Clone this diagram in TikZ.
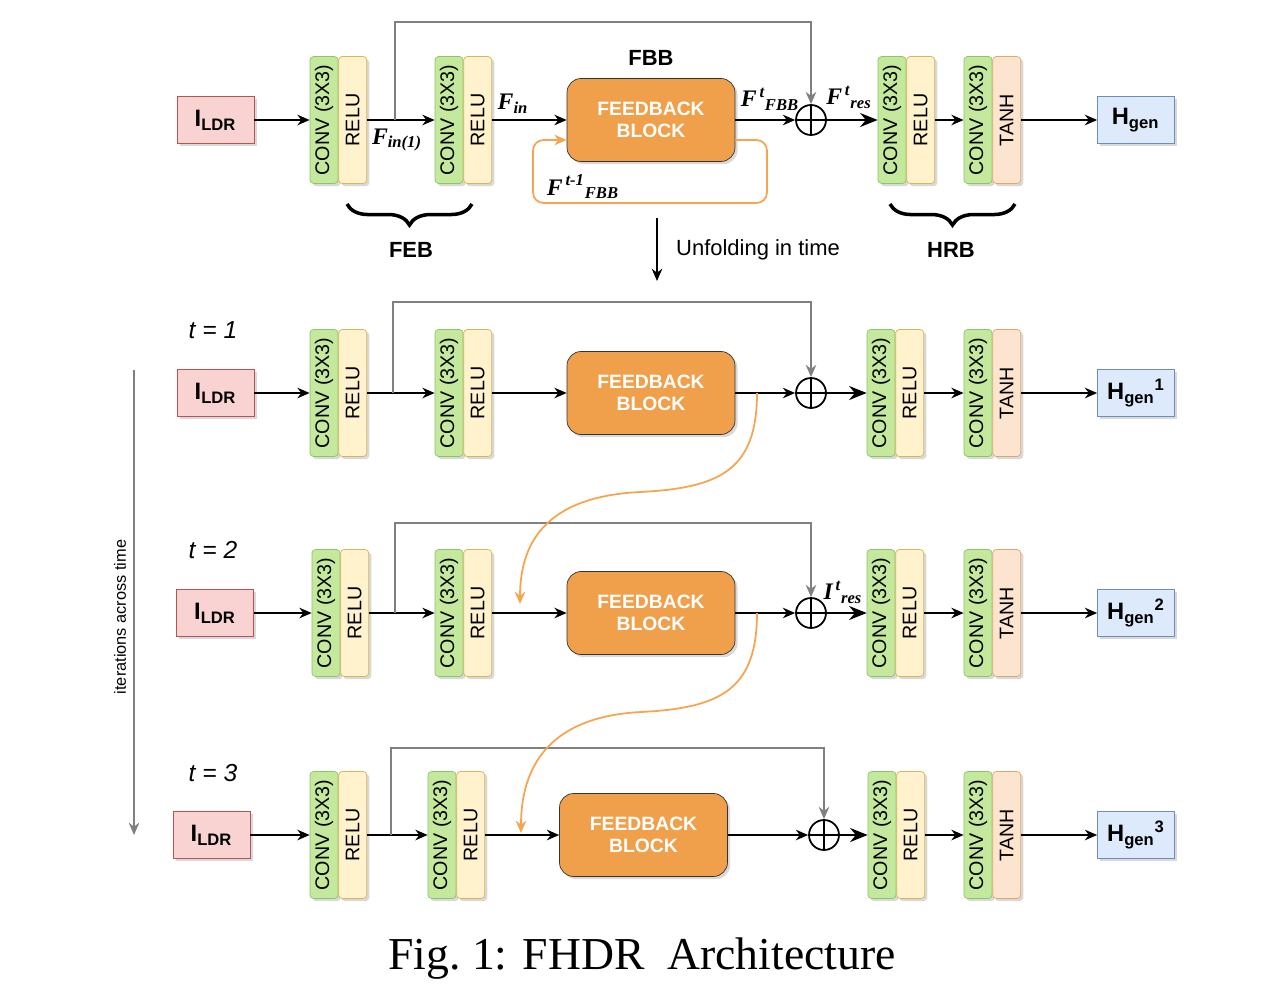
\documentclass[tikz,border=0pt]{standalone}
\usepackage{fontspec}
\setmainfont{Liberation Serif}
\setsansfont{Liberation Sans}
\usepackage{graphicx}
\usetikzlibrary{arrows.meta,positioning,shadows,decorations.pathreplacing,calc}

\definecolor{ldrfill}{HTML}{F8D3D2}
\definecolor{ldrline}{HTML}{B85450}
\definecolor{hgenfill}{HTML}{DDEAFB}
\definecolor{hgenline}{HTML}{6C8EBF}
\definecolor{convfill}{HTML}{C4E89C}
\definecolor{convline}{HTML}{8CC46C}
\definecolor{relufill}{HTML}{FFF2CC}
\definecolor{reluline}{HTML}{D6B656}
\definecolor{tanhfill}{HTML}{FCE4CE}
\definecolor{tanhline}{HTML}{DDA96A}
\definecolor{fbfill}{HTML}{F0A04B}
\definecolor{fbline}{HTML}{333333}
\definecolor{looporange}{HTML}{F5A54F}
\definecolor{skipgray}{HTML}{808080}

\begin{document}
\begin{tikzpicture}[x=0.02cm, y=-0.02cm,
    shadowed/.style={drop shadow={shadow xshift=1.5pt, shadow yshift=-1.5pt, opacity=0.3}},
    box/.style={rectangle, minimum width=1.54cm, minimum height=0.94cm, inner sep=0pt,
        font=\sffamily\bfseries\fontsize{13.5}{15}\selectfont, shadowed},
    ldr/.style={box, draw=ldrline, fill=ldrfill},
    hgen/.style={box, draw=hgenline, fill=hgenfill},
    layerbox/.style={rectangle, rounded corners=2pt, minimum width=0.56cm, minimum height=2.54cm,
        inner sep=0pt, font=\sffamily\fontsize{11.2}{12}\selectfont, shadowed},
    conv/.style={layerbox, draw=convline, fill=convfill},
    relu/.style={layerbox, draw=reluline, fill=relufill},
    tanh/.style={layerbox, draw=tanhline, fill=tanhfill},
    fbblock/.style={rectangle, rounded corners=8pt, draw=fbline, fill=fbfill, minimum width=3.36cm,
        minimum height=1.66cm, text=white, align=center,
        font=\sffamily\bfseries\fontsize{11}{12.5}\selectfont, shadowed},
    adder/.style={circle, draw, line width=1pt, minimum size=0.6cm, inner sep=0pt,
        path picture={\draw[line width=1pt] (path picture bounding box.north) -- (path picture bounding box.south)
            (path picture bounding box.west) -- (path picture bounding box.east);}},
    arrow/.style={-{Stealth[length=7pt, width=6pt]}, line width=1pt},
    bigarrow/.style={-{Stealth[length=10pt, width=8pt]}, line width=1pt},
    skip/.style={-{Stealth[length=7pt, width=6pt]}, draw=skipgray, line width=1pt},
    loop/.style={-{Stealth[length=7pt, width=6pt]}, draw=looporange, line width=1pt},
    brace/.style={decorate, decoration={brace, mirror, amplitude=12pt}, line width=2pt},
    lbl/.style={font=\bfseries\itshape\fontsize{13.5}{15}\selectfont, inner sep=1pt},
    tlbl/.style={font=\sffamily\itshape\fontsize{14}{16}\selectfont},
    title/.style={font=\sffamily\bfseries\fontsize{12.5}{14}\selectfont}
]
\useasboundingbox (0,0) rectangle (1272,984);

% Rows: top model and its unfolding over time
\foreach \r/\y/\s/\xl/\xa/\xb/\xf/\xo/\xc/\xk/\yk in {
    0/120//215.5/324/449/651/811/892/395/22,
    1/393/1/215.5/324/449/651/811/881/393/302,
    2/613/2/215/326/449/651/811/881/395/523,
    3/835/3/211.5/324/442/643.5/824/882/391/748} {
    \node[ldr] (ldr\r) at (\xl,\y) {I\textsubscript{LDR}};
    \node[conv] (ca\r) at (\xa,\y) {\rotatebox{90}{CONV (3X3)}};
    \node[relu, right=0pt of ca\r] (ra\r) {\rotatebox{90}{RELU}};
    \node[conv] (cb\r) at (\xb,\y) {\rotatebox{90}{CONV (3X3)}};
    \node[relu, right=0pt of cb\r] (rb\r) {\rotatebox{90}{RELU}};
    \node[fbblock] (fb\r) at (\xf,\y) {FEEDBACK\\BLOCK};
    \node[adder] (op\r) at (\xo,\y) {};
    \node[conv] (cc\r) at (\xc,\y) {\rotatebox{90}{CONV (3X3)}};
    \node[relu, right=0pt of cc\r] (rc\r) {\rotatebox{90}{RELU}};
    \node[conv] (cd\r) at (978,\y) {\rotatebox{90}{CONV (3X3)}};
    \node[tanh, right=0pt of cd\r] (td\r) {\rotatebox{90}{TANH}};
    \node[hgen] (hg\r) at (1136,\y) {H\textsubscript{gen}\textsuperscript{\s}};

    \draw[arrow] (ldr\r) -- (ca\r);
    \draw[arrow] (ra\r) -- (cb\r);
    \draw[arrow] (rb\r) -- (fb\r);
    \draw[arrow] (fb\r) -- (op\r);
    \draw[bigarrow] (op\r) -- (cc\r);
    \draw[arrow] (rc\r) -- (cd\r);
    \draw[arrow] (td\r) -- (hg\r);

    % skip connection
    \coordinate (sk\r) at (\xk,\y);
    \coordinate (tp\r) at (\xk,\yk);
    \draw[skip] (sk\r) -- (tp\r) -| (op\r);
}

% Top model labels
\node[title, above=0.12cm of fb0] (fbbl) {FBB};
\node[lbl] (fin1) at (397,140) {F\textsubscript{in(1)}};
\node[lbl] (fin) at (513,104) {F\textsubscript{in}};
\node[lbl] (ffbb) at (770,99) {F\textsuperscript{\,t}\textsubscript{FBB}};
\node[lbl] (fres) at (849,97) {F\textsuperscript{\,t}\textsubscript{res}};
\node[lbl] (fprev) at (583,187) {F\textsuperscript{\,t-1}\textsubscript{FBB}};

% Feedback loop
\coordinate (lp1) at (767,203);
\coordinate (lp2) at (533,203);
\draw[loop, rounded corners=6pt] ([yshift=-0.4cm]fb0.east) -| (lp1) -- (lp2) |- ([yshift=-0.4cm]fb0.west);

% Braces
\draw[brace] (347,204) -- (472,204);
\node[title] (feb) at (411,250) {FEB};
\draw[brace] (890,204) -- (1015,204);
\node[title] (hrb) at (951,250) {HRB};

% Unfolding
\coordinate (uf1) at (657,218);
\coordinate (uf2) at (657,281);
\draw[arrow] (uf1) -- (uf2) node[midway, right=0.25cm, font=\sffamily\fontsize{12.5}{14}\selectfont] (ufl) {Unfolding in time};

% Time step labels
\node[tlbl] (t1) at (213,330) {t = 1};
\node[tlbl] (t2) at (213,550) {t = 2};
\node[tlbl] (t3) at (213,773) {t = 3};
\node[lbl] (ires) at (843,592) {I\textsuperscript{\,t}\textsubscript{res}};

% State passed between iterations
\coordinate (fo1) at (757,393);
\coordinate (fm1) at (640,492);
\coordinate (fi2) at (520,604);
\coordinate (fo2) at (757,613);
\coordinate (fm2) at (641,712);
\coordinate (fi3) at (521,833);
\draw[loop] (fo1) .. controls (757,470) and (720,488) .. (fm1) .. controls (560,496) and (520,530) .. (fi2);
\draw[loop] (fo2) .. controls (757,690) and (720,708) .. (fm2) .. controls (561,716) and (521,755) .. (fi3);

% Iterations
\coordinate (it1) at (134,370);
\coordinate (it2) at (134,835);
\draw[skip] (it1) -- (it2);
\node[rotate=90, font=\sffamily\fontsize{9.3}{11}\selectfont] (itl) at (120,617) {iterations across time};

% Caption
\node[font=\fontsize{26}{30}\selectfont] (cap) at (642,959) {Fig.~1: FHDR~~Architecture};

\end{tikzpicture}
\end{document}
